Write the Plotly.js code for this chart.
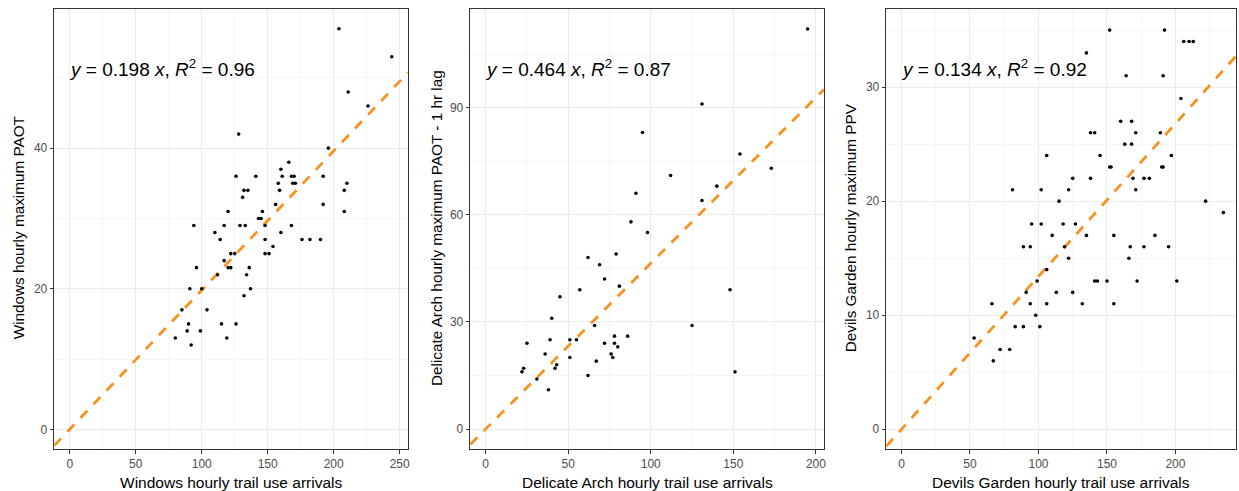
<!DOCTYPE html>
<html>
<head>
<meta charset="utf-8">
<script src="https://cdn.plot.ly/plotly-3.0.1.min.js"></script>
<style>html,body{margin:0;padding:0;background:#fff;}#chart{width:1239px;height:491px;}</style>
</head>
<body>
<div id="chart"></div>
<script>
// ---- Data ----
const windowsArrivals = [204,244,211,226,196,128,166,160,126,141,168,170,161,192,158,169,171,210,159,208,132,135,131,156,192,120,146,208,143,145,94,117,129,133,148,168,110,114,160,148,176,182,190,154,122,125,148,151,117,96,120,122,136,112,134,91,100,137,132,85,104,90,115,126,89,99,80,119,92];
const windowsPAOT = [57,53,48,46,40,42,38,37,36,36,36,36,36,36,35,35,35,35,34,34,34,34,33,32,32,31,31,31,30,30,29,29,29,29,29,29,28,27,28,27,27,27,27,26,25,25,25,25,24,23,23,23,23,22,22,20,20,20,19,17,17,15,15,15,14,14,13,13,12];

const delicateArrivals = [195,131,95,154,173,112,140,91,131,88,98,62,79,69,72,57,81,45,148,40,66,125,51,55,39,25,78,86,72,78,80,36,76,51,77,67,22,23,43,42,31,62,38,151];
const delicatePAOT = [112,91,83,77,73,71,68,66,64,58,55,48,49,46,42,39,40,37,39,31,29,29,25,25,25,24,26,26,24,24,23,21,21,20,20,19,16,17,18,17,14,15,11,16];

const devilsArrivals = [152,192,206,210,213,135,164,191,204,160,168,138,141,171,189,163,168,106,145,197,152,153,190,191,125,138,169,177,181,81,102,122,171,115,222,235,95,102,118,127,110,135,155,185,89,94,119,167,177,195,122,166,106,99,141,143,150,172,201,91,113,125,66,94,106,132,155,98,83,89,101,53,72,79,67];
const devilsPPV = [35,35,34,34,34,33,31,31,29,27,27,26,26,26,26,25,25,24,24,24,23,23,23,23,22,22,22,22,22,21,21,21,21,20,20,19,18,18,18,18,17,17,17,17,16,16,16,16,16,16,15,15,14,13,13,13,13,13,13,12,12,12,11,11,11,11,11,10,9,9,9,8,7,7,6];

const slopes = [0.198, 0.464, 0.134];
const rSquared = [0.96, 0.87, 0.92];
const xTitles = ["Windows hourly trail use arrivals", "Delicate Arch hourly trail use arrivals", "Devils Garden hourly trail use arrivals"];
const yTitles = ["Windows hourly maximum PAOT", "Delicate Arch hourly maximum PAOT - 1 hr lag", "Devils Garden hourly maximum PPV"];

// ---- Layout settings ----
const W = 1239, H = 491;
const xRanges = [[-11.7, 256.3], [-9.3, 204.9], [-11.1, 244.2]];
const yRanges = [[-2.8, 59.8], [-5.6, 117.6], [-1.73, 36.85]];
const xDomains = [[54.3/W, 408/W], [470.3/W, 824/W], [886.3/W, 1236/W]];
const xMajor = [50, 50, 50], xMinor = [25, 25, 25];
const yMajor = [20, 30, 10], yMinor = [10, 15, 5];
const yTitleX = [18, 436.7, 850];

const xs = [windowsArrivals, delicateArrivals, devilsArrivals];
const ys = [windowsPAOT, delicatePAOT, devilsPPV];

const font = "Liberation Sans, Arial, sans-serif";
const traces = [];
const layout = {
  width: W, height: H,
  margin: {l: 0, r: 0, t: 9.3, b: 42},
  paper_bgcolor: "#fff", plot_bgcolor: "#fff",
  showlegend: false,
  font: {family: font},
  annotations: []
};

for (let i = 0; i < 3; i++) {
  const xa = i === 0 ? "x" : "x" + (i + 1);
  const ya = i === 0 ? "y" : "y" + (i + 1);
  const xk = i === 0 ? "xaxis" : "xaxis" + (i + 1);
  const yk = i === 0 ? "yaxis" : "yaxis" + (i + 1);

  // fitted line through origin, spanning the panel
  const lx = [xRanges[i][0], xRanges[i][1]];
  traces.push({
    type: "scatter", mode: "lines", x: lx, y: lx.map(v => slopes[i] * v),
    xaxis: xa, yaxis: ya, hoverinfo: "skip",
    line: {color: "#F7921E", width: 2.8, dash: "10px,9px"}
  });
  traces.push({
    type: "scatter", mode: "markers", x: xs[i], y: ys[i],
    xaxis: xa, yaxis: ya,
    marker: {color: "#000", size: 3.6, line: {width: 0}}
  });

  const axCommon = {
    showline: true, mirror: true, linecolor: "#333333", linewidth: 1.1,
    ticks: "outside", ticklen: 3.5, tickwidth: 1, tickcolor: "#333333",
    tickfont: {family: font, size: 12, color: "#4D4D4D"},
    showgrid: true, gridcolor: "#EBEBEB", gridwidth: 1,
    zeroline: false, fixedrange: true
  };
  layout[xk] = Object.assign({}, axCommon, {
    domain: xDomains[i], range: xRanges[i], anchor: ya,
    tick0: 0, dtick: xMajor[i],
    minor: {tick0: xMinor[i], dtick: xMajor[i], showgrid: true, gridcolor: "#F0F0F0", gridwidth: 0.6, ticklen: 0}
  });
  layout[yk] = Object.assign({}, axCommon, {
    domain: [0, 1], range: yRanges[i], anchor: xa,
    tick0: 0, dtick: yMajor[i],
    minor: {tick0: yMinor[i], dtick: yMajor[i], showgrid: true, gridcolor: "#F0F0F0", gridwidth: 0.6, ticklen: 0}
  });

  // equation label
  layout.annotations.push({
    xref: xa + " domain", yref: ya + " domain",
    x: 0.036, y: 0.866, xanchor: "left", yanchor: "middle", showarrow: false,
    text: "<i>y</i> = " + slopes[i].toFixed(3) + " <i>x</i>, <i>R</i><sup>2</sup> = " + rSquared[i].toFixed(2),
    font: {family: font, size: 19, color: "#000"}
  });
  // x axis title
  layout.annotations.push({
    xref: "paper", yref: "paper",
    x: (xDomains[i][0] + xDomains[i][1]) / 2, y: -33.7 / 440,
    xanchor: "center", yanchor: "middle", showarrow: false,
    text: xTitles[i], font: {family: font, size: 15.5, color: "#000"}
  });
  // y axis title
  layout.annotations.push({
    xref: "paper", yref: "paper",
    x: yTitleX[i] / W, y: 0.5 + 0.7/440,
    xanchor: "center", yanchor: "middle", showarrow: false, textangle: -90,
    text: yTitles[i], font: {family: font, size: 15.3, color: "#000"}
  });
}

Plotly.newPlot("chart", traces, layout, {staticPlot: true, displayModeBar: false});
</script>
</body>
</html>
